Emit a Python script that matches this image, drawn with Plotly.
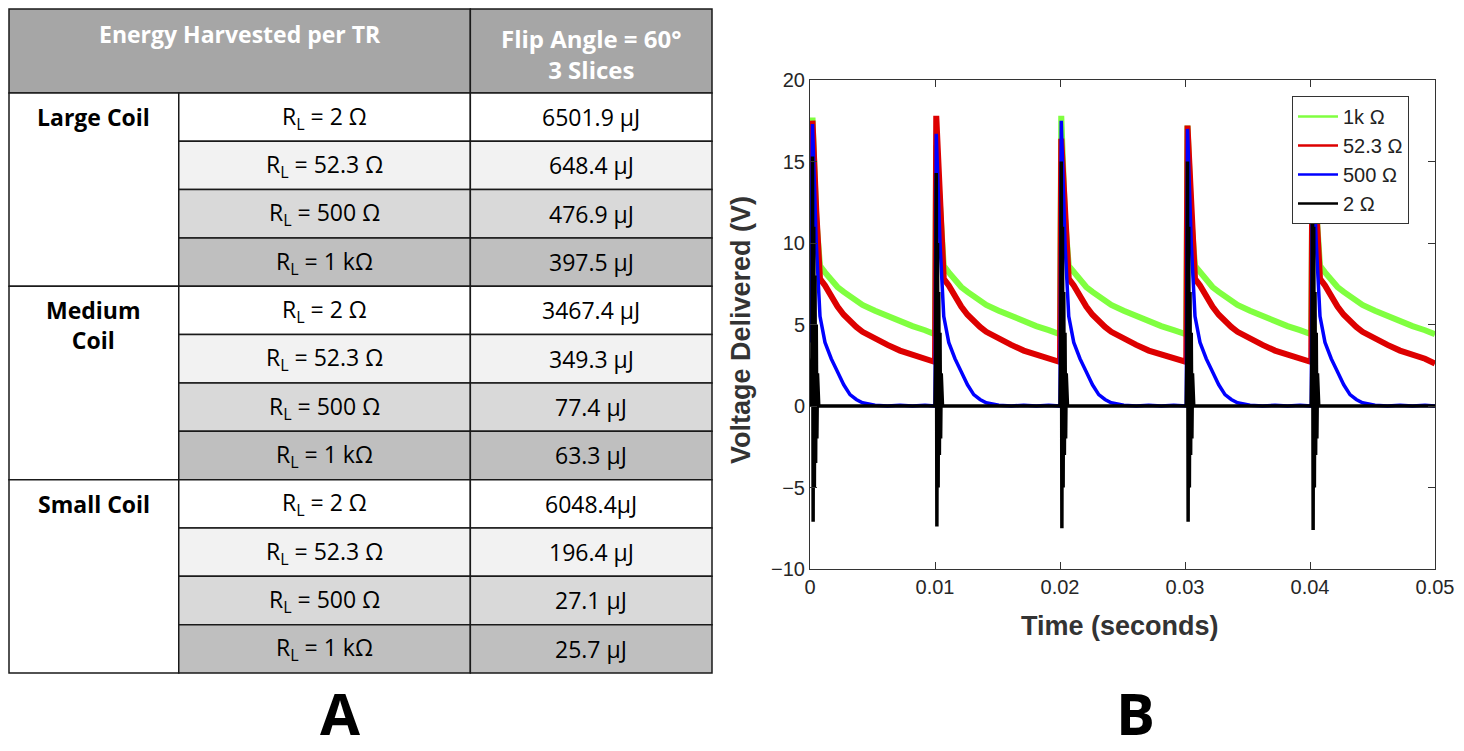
import plotly.graph_objects as go

# ---- table (panel A) ----
coils = ["Large Coil", "Medium<br>Coil", "Small Coil"]
loads = ["R<sub>L</sub> = 2 Ω", "R<sub>L</sub> = 52.3 Ω", "R<sub>L</sub> = 500 Ω", "R<sub>L</sub> = 1 kΩ"]
energy = [
    ["6501.9 µJ", "648.4 µJ", "476.9 µJ", "397.5 µJ"],
    ["3467.4 µJ", "349.3 µJ", "77.4 µJ", "63.3 µJ"],
    ["6048.4µJ", "196.4 µJ", "27.1 µJ", "25.7 µJ"],
]
header_left = "Energy Harvested per TR"
header_right = "Flip Angle = 60°<br>3 Slices"

# ---- voltage traces (panel B) ----
curve_t = [
    0.0000, 0.0002, 0.0005, 0.0008, 0.0012, 0.0017, 0.0022, 0.0027, 0.0032, 0.0037, 0.0042, 0.0052, 0.0062, 0.0072, 0.0082, 0.0092, 0.0100,
    0.0101, 0.0104, 0.0107, 0.0111, 0.0116, 0.0121, 0.0126, 0.0131, 0.0136, 0.0141, 0.0151, 0.0161, 0.0171, 0.0181, 0.0191, 0.0200,
    0.0201, 0.0204, 0.0207, 0.0211, 0.0216, 0.0221, 0.0226, 0.0231, 0.0236, 0.0241, 0.0251, 0.0261, 0.0271, 0.0281, 0.0291, 0.0301,
    0.0302, 0.0305, 0.0308, 0.0312, 0.0317, 0.0322, 0.0327, 0.0332, 0.0337, 0.0342, 0.0352, 0.0362, 0.0372, 0.0382, 0.0392, 0.0401,
    0.0402, 0.0405, 0.0408, 0.0412, 0.0417, 0.0422, 0.0427, 0.0432, 0.0437, 0.0442, 0.0452, 0.0462, 0.0472, 0.0482, 0.0492, 0.0500,
]
v_1k = [
    11.5, 17.7, 11.5, 8.6, 8.2, 7.7, 7.3, 7.0, 6.7, 6.45, 6.2, 5.85, 5.5, 5.2, 4.9, 4.65, 4.4,
    16.0, 11.5, 8.6, 8.2, 7.7, 7.3, 7.0, 6.7, 6.45, 6.2, 5.85, 5.5, 5.2, 4.9, 4.65, 4.4,
    17.8, 11.5, 8.6, 8.2, 7.7, 7.3, 7.0, 6.7, 6.45, 6.2, 5.85, 5.5, 5.2, 4.9, 4.65, 4.4,
    17.2, 11.5, 8.6, 8.2, 7.7, 7.3, 7.0, 6.7, 6.45, 6.2, 5.85, 5.5, 5.2, 4.9, 4.65, 4.4,
    15.5, 11.5, 8.6, 8.2, 7.7, 7.3, 7.0, 6.7, 6.45, 6.2, 5.85, 5.5, 5.2, 4.9, 4.65, 4.4,
]
v_52 = [
    4.0, 17.5, 12.0, 7.8, 7.4, 6.7, 6.1, 5.6, 5.2, 4.85, 4.55, 4.1, 3.75, 3.4, 3.15, 2.9, 2.7,
    17.8, 12.0, 7.8, 7.4, 6.7, 6.1, 5.6, 5.2, 4.85, 4.55, 4.1, 3.75, 3.4, 3.15, 2.9, 2.7,
    16.4, 12.0, 7.8, 7.4, 6.7, 6.1, 5.6, 5.2, 4.85, 4.55, 4.1, 3.75, 3.4, 3.15, 2.9, 2.7,
    17.2, 12.0, 7.8, 7.4, 6.7, 6.1, 5.6, 5.2, 4.85, 4.55, 4.1, 3.75, 3.4, 3.15, 2.9, 2.7,
    16.5, 12.0, 7.8, 7.4, 6.7, 6.1, 5.6, 5.2, 4.85, 4.55, 4.1, 3.75, 3.4, 3.15, 2.9, 2.6,
]
v_500 = [
    3.9, 17.3, 10.0, 5.5, 3.9, 2.9, 2.1, 1.3, 0.7, 0.4, 0.2, 0.05, 0.0, 0.05, 0.0, 0.05, 0.0,
    16.7, 10.0, 5.5, 3.9, 2.9, 2.1, 1.3, 0.7, 0.4, 0.2, 0.05, 0.0, 0.05, 0.0, 0.05, 0.0,
    17.5, 10.0, 5.5, 3.9, 2.9, 2.1, 1.3, 0.7, 0.4, 0.2, 0.05, 0.0, 0.05, 0.0, 0.05, 0.0,
    17.0, 10.0, 5.5, 3.9, 2.9, 2.1, 1.3, 0.7, 0.4, 0.2, 0.05, 0.0, 0.05, 0.0, 0.05, 0.0,
    16.0, 10.0, 5.5, 3.9, 2.9, 2.1, 1.3, 0.7, 0.4, 0.2, 0.05, 0.0, 0.05, 0.0, 0.05, 0.0,
]
black_t = [
    0.0000, 0.00015, 0.0002, 0.00025, 0.0003, 0.00035, 0.0004, 0.00045, 0.0005, 0.00055, 0.0006, 0.0007,
    0.0100, 0.01005, 0.0101, 0.01015, 0.0102, 0.01025, 0.0103, 0.01035, 0.0104, 0.01045, 0.0105, 0.0106,
    0.0200, 0.02005, 0.0201, 0.02015, 0.0202, 0.02025, 0.0203, 0.02035, 0.0204, 0.02045, 0.0205, 0.0206,
    0.0301, 0.03015, 0.0302, 0.03025, 0.0303, 0.03035, 0.0304, 0.03045, 0.0305, 0.03055, 0.0306, 0.0307,
    0.0401, 0.04015, 0.0402, 0.04025, 0.0403, 0.04035, 0.0404, 0.04045, 0.0405, 0.04055, 0.0406, 0.0407,
    0.0500,
]
v_2 = [
    0, 3, 15.3, -7.1, 11, -5, 8, -3.5, 5, -2, 2, 0,
    0, 3, 14.3, -7.4, 10, -5, 7, -3, 4.5, -2, 2, 0,
    0, 3, 15.0, -7.5, 11, -5, 7, -3, 4.5, -2, 2, 0,
    0, 3, 15.0, -7.1, 11, -5, 7, -3, 4.5, -2, 2, 0,
    0, 3, 15.0, -7.6, 11, -5, 7, -3, 4.5, -2, 2, 0,
    0,
]
series_names = ["1k Ω", "52.3 Ω", "500 Ω", "2 Ω"]
series_colors = ["#80ff40", "#dd0000", "#0000ff", "#000000"]

W, H = 1464, 751
OFF = 8  # page body margin shifts the figure


def px(x):
    return min(1.0, max(0.0, (x - OFF) / W))


def py(y):
    return min(1.0, max(0.0, 1 - (y - OFF) / H))


TFONT = "Open Sans, sans-serif"
AFONT = "Liberation Sans, Arial, sans-serif"

fig = go.Figure()

xs = [curve_t, curve_t, curve_t, black_t]
ys = [v_1k, v_52, v_500, v_2]
widths = [6, 6, 3.5, 3.5]
for name, col, x, y, w in zip(series_names, series_colors, xs, ys, widths):
    fig.add_trace(go.Scatter(x=x, y=y, mode="lines", line=dict(color=col, width=w),
                             showlegend=False, hoverinfo="skip"))
# thin legend samples
for name, col in zip(series_names, series_colors):
    fig.add_trace(go.Scatter(x=[None], y=[None], mode="lines", name=name,
                             line=dict(color=col, width=2.5)))

# table geometry (pixel-like units on hidden axes)
col_edges = [0, 170, 462, 704]
head_h = 84
row_h = 48.4
shades = ["#ffffff", "#f2f2f2", "#d9d9d9", "#bfbfbf"]
line_c = "#1a1a1a"
fs = 23
shapes = []
annos = []


def cell_text(x, y, text, color="black", size=fs, yanchor="middle"):
    annos.append(dict(xref="x2", yref="y2", x=x, y=y, text=text, showarrow=False,
                      xanchor="center", yanchor=yanchor,
                      font=dict(family=TFONT, size=size, color=color)))


shapes.append(dict(type="rect", xref="x2", yref="y2", x0=0, x1=col_edges[2], y0=0, y1=head_h,
                   fillcolor="#a6a6a6", line=dict(color=line_c, width=1.5), layer="below"))
shapes.append(dict(type="rect", xref="x2", yref="y2", x0=col_edges[2], x1=col_edges[3], y0=0, y1=head_h,
                   fillcolor="#a6a6a6", line=dict(color=line_c, width=1.5), layer="below"))
cell_text(col_edges[2] / 2, 25, "<b>" + header_left + "</b>", color="white")
cell_text((col_edges[2] + col_edges[3]) / 2, 45,
          "<b>" + header_right.replace("<br>", "</b><br><b>") + "</b>", color="white", size=24)

for g, coil in enumerate(coils):
    gy0 = head_h + g * 4 * row_h
    shapes.append(dict(type="rect", xref="x2", yref="y2", x0=0, x1=col_edges[1], y0=gy0, y1=gy0 + 4 * row_h,
                       fillcolor="white", line=dict(color=line_c, width=1.5), layer="below"))
    cell_text(col_edges[1] / 2, gy0 + 6, "<b>" + coil.replace("<br>", "</b><br><b>") + "</b>", yanchor="top")
    for r in range(4):
        ry0 = gy0 + r * row_h
        for c in (1, 2):
            shapes.append(dict(type="rect", xref="x2", yref="y2", x0=col_edges[c], x1=col_edges[c + 1],
                               y0=ry0, y1=ry0 + row_h, fillcolor=shades[r],
                               line=dict(color=line_c, width=1.5), layer="below"))
        cell_text((col_edges[1] + col_edges[2]) / 2, ry0 + row_h / 2, loads[r])
        cell_text((col_edges[2] + col_edges[3]) / 2, ry0 + row_h / 2, energy[g][r])

table_h = head_h + 12 * row_h

# axis titles and panel letters
for x, y, text, size, fam, ang in [
    (741, 330, "<b>Voltage Delivered (V)</b>", 27, AFONT, -90),
    (1120, 626, "<b>Time (seconds)</b>", 27, AFONT, 0),
    (340, 712, "<b>A</b>", 58, TFONT, 0),
    (1135, 712, "<b>B</b>", 58, TFONT, 0),
]:
    annos.append(dict(xref="paper", yref="paper", x=px(x), y=py(y), text=text, textangle=ang,
                      xanchor="center", yanchor="middle", showarrow=False,
                      font=dict(family=fam, size=size, color="#333333" if size < 40 else "black")))

axis_c = "#333333"
fig.update_layout(
    width=W, height=H,
    margin=dict(l=0, r=0, t=0, b=0),
    paper_bgcolor="white", plot_bgcolor="white",
    showlegend=True,
    legend=dict(x=px(1292), y=py(96), xanchor="left", yanchor="top",
                bgcolor="white", bordercolor="#333333", borderwidth=1,
                font=dict(family=AFONT, size=20, color="#222222"),
                tracegroupgap=0, itemwidth=40),
    xaxis=dict(domain=[px(810), px(1435)], range=[0, 0.05], dtick=0.01, tick0=0, automargin=False,
               showline=True, linecolor=axis_c, linewidth=1, mirror="ticks",
               ticks="inside", ticklen=7, tickcolor=axis_c, showgrid=False, zeroline=False,
               tickfont=dict(family=AFONT, size=20, color="#262626")),
    yaxis=dict(domain=[py(569), py(80)], range=[-10, 20], dtick=5, tick0=0, automargin=False,
               showline=True, linecolor=axis_c, linewidth=1, mirror="ticks",
               ticks="inside", ticklen=7, tickcolor=axis_c, showgrid=False, zeroline=False,
               tickfont=dict(family=AFONT, size=20, color="#262626")),
    xaxis2=dict(domain=[0, px(713)], range=[-1, col_edges[3] + 1], visible=False, anchor="y2"),
    yaxis2=dict(domain=[py(674), 1], range=[table_h + 1, -1], visible=False, anchor="x2"),
    shapes=shapes,
    annotations=annos,
)

fig.write_html("out.html")
